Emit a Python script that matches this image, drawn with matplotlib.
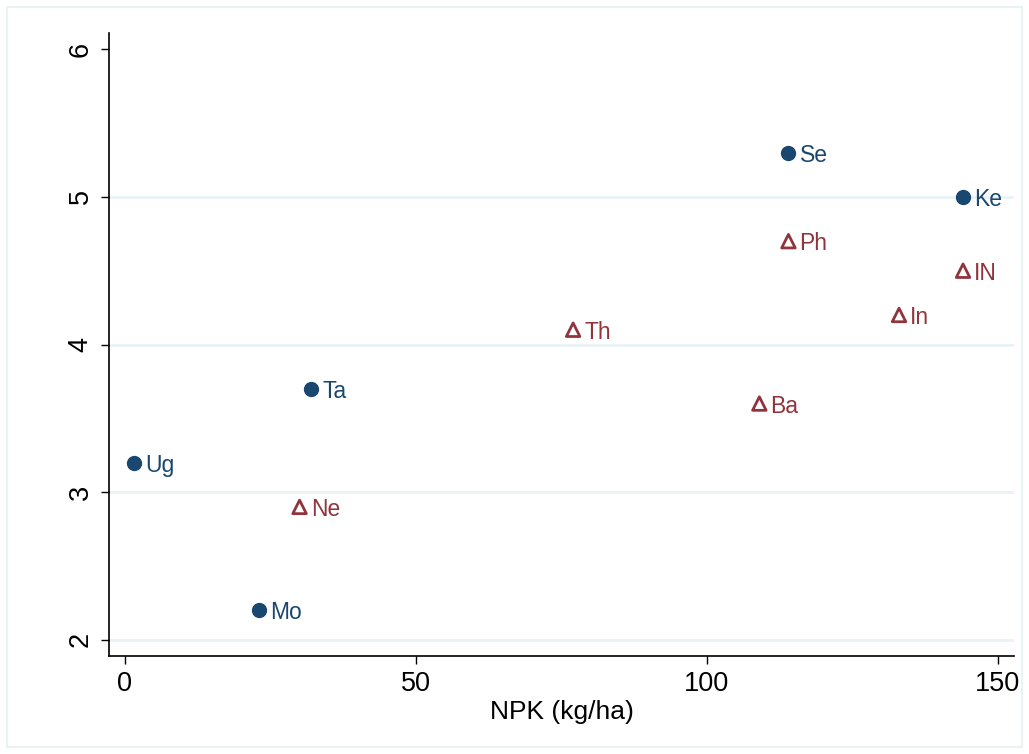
import matplotlib
matplotlib.use("Agg")
import matplotlib.pyplot as plt
from matplotlib.patches import Rectangle

plt.rcParams['font.family'] = ['Liberation Sans', 'DejaVu Sans']

# blue circles
blue_x = [114, 144, 32, 1.5, 23]
blue_y = [5.3, 5.0, 3.7, 3.2, 2.2]
blue_lab = ["Se", "Ke", "Ta", "Ug", "Mo"]

# red hollow triangles
red_x = [114, 144, 133, 77, 109, 30]
red_y = [4.7, 4.5, 4.2, 4.1, 3.6, 2.9]
red_lab = ["Ph", "IN", "In", "Th", "Ba", "Ne"]

blue = "#1a476f"
red = "#90353b"

fig = plt.figure(figsize=(10.29, 7.54), dpi=100)
fig.patches.append(Rectangle((0.007, 0.009), 0.986, 0.982, transform=fig.transFigure,
                             fill=False, edgecolor="#eaf2f3", linewidth=1.5))
ax = fig.add_axes([0.1059, 0.130, 0.8795, 0.8262])

for g in [2, 3, 4, 5]:
    ax.axhline(g, color="#eaf2f3", linewidth=2, zorder=0)

ax.scatter(blue_x, blue_y, s=100, color=blue, zorder=3)
ax.scatter(red_x, red_y, s=95, marker="^", facecolors="none", edgecolors=red,
           linewidths=2, zorder=3)

for x, y, t in zip(blue_x, blue_y, blue_lab):
    ax.annotate(t, (x, y), xytext=(8, -2), textcoords="offset points",
                va="center", ha="left", fontsize=16.5, color=blue)
for x, y, t in zip(red_x, red_y, red_lab):
    ax.annotate(t, (x, y), xytext=(8, -2), textcoords="offset points",
                va="center", ha="left", fontsize=16.5, color=red)

ax.set_xlim(-2.75, 152.75)
ax.set_ylim(1.89, 6.11)
ax.set_xticks([0, 50, 100, 150])
ax.set_yticks([2, 3, 4, 5, 6])
ax.spines['top'].set_visible(False)
ax.spines['right'].set_visible(False)
ax.spines['left'].set_linewidth(1.2)
ax.spines['bottom'].set_linewidth(1.2)
ax.tick_params(direction="out", length=6, width=1, labelsize=19.5, pad=5)
for lbl in ax.get_yticklabels():
    lbl.set_rotation(90)
    lbl.set_va("center")
ax.set_xlabel("NPK (kg/ha)", fontsize=19, labelpad=2)

fig.savefig("out.png", dpi=100)
